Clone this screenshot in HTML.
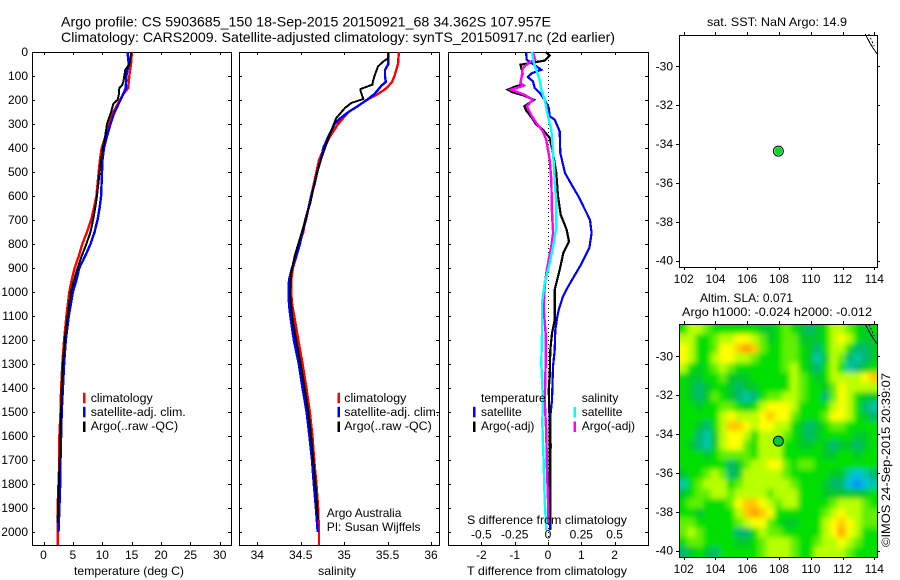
<!DOCTYPE html>
<html lang="en">
<head>
<meta charset="utf-8">
<title>Argo profile CS 5903685_150</title>
<style>
html,body{margin:0;padding:0;background:#fff;}
svg{display:block;font-family:"Liberation Sans",sans-serif;font-size:12px;fill:#000;}
</style>
</head>
<body>
<svg id="fig" width="900" height="580" viewBox="0 0 900 580" xmlns="http://www.w3.org/2000/svg">
<defs>
<filter id="soften" x="-10%" y="-10%" width="120%" height="120%"><feGaussianBlur stdDeviation="2.6"/></filter>
<clipPath id="map-clip"><rect x="679" y="324" width="198" height="233"/></clipPath>
</defs>
<rect x="0" y="0" width="900" height="580" fill="#fff"/>
<text x="61" y="26.5" font-size="14" textLength="490" lengthAdjust="spacingAndGlyphs">Argo profile: CS 5903685_150 18-Sep-2015 20150921_68 34.362S 107.957E</text>
<text x="61" y="42" font-size="14" textLength="554" lengthAdjust="spacingAndGlyphs">Climatology: CARS2009. Satellite-adjusted climatology: synTS_20150917.nc (2d earlier)</text>
<text x="707" y="26" textLength="140" lengthAdjust="spacingAndGlyphs">sat. SST: NaN Argo: 14.9</text>
<text x="700" y="302" textLength="93" lengthAdjust="spacingAndGlyphs">Altim. SLA: 0.071</text>
<text x="682" y="316" textLength="190" lengthAdjust="spacingAndGlyphs">Argo h1000: -0.024 h2000: -0.012</text>
<text transform="translate(890,547) rotate(-90)" textLength="174" lengthAdjust="spacingAndGlyphs">©IMOS 24-Sep-2015 20:39:07</text>
<text x="74" y="575" textLength="110" lengthAdjust="spacingAndGlyphs">temperature (deg C)</text>
<text x="318" y="575" textLength="38" lengthAdjust="spacingAndGlyphs">salinity</text>
<text x="467" y="575" textLength="160" lengthAdjust="spacingAndGlyphs">T difference from climatology</text>
<g id="layer"></g>
<text x="467" y="524" textLength="160" lengthAdjust="spacingAndGlyphs">S difference from climatology</text>
<text x="326.7" y="517">Argo Australia</text>
<text x="326.7" y="531">PI: Susan Wijffels</text>
</svg>
<script>
// ---------- shared depth ticks ----------
const depthTicks = [0,100,200,300,400,500,600,700,800,900,1000,1100,1200,1300,1400,1500,1600,1700,1800,1900,2000];

// ---------- temperature panel ----------
const tempTicks = [0,5,10,15,20,25,30];
const climTDepth = [0,50,100,150,175,200,250,300,350,400,450,500,600,650,700,750,800,850,900,950,1000,1100,1200,1300,1400,1500,1600,1700,1800,1900,2000,2054];
const climT = [15.05,14.9,14.6,14.4,13.6,13.0,11.9,11.1,10.6,9.9,9.6,9.4,9.0,8.6,8.1,7.4,6.6,6.0,5.3,4.8,4.4,3.9,3.5,3.2,3.0,2.9,2.7,2.7,2.55,2.4,2.4,2.4];
const satTDepth = [0,50,100,150,200,250,300,350,400,450,500,600,650,700,750,800,850,900,950,1000,1100,1200,1300,1400,1500,1600,1700,1800,1900,2000];
const satT = [14.3,14.5,14.1,14.0,13.1,12.1,11.4,10.8,10.3,10.05,9.95,9.8,9.55,9.2,8.7,8.0,7.1,6.1,5.6,5.0,4.3,3.8,3.5,3.3,3.1,3.0,2.9,2.85,2.7,2.55];
const argoTDepth = [0,50,75,100,125,140,150,175,200,215,250,300,350,400,450,500,600,650,700,750,800,850,900,950,1000,1100,1200,1300,1400,1500,1600,1700,1800,1900,1960];
const argoT = [14.95,14.65,13.9,13.75,13.6,13.35,12.9,12.85,12.6,11.9,11.5,10.8,10.5,10.1,9.8,9.55,9.1,8.8,8.45,8.0,7.3,6.5,5.8,5.2,4.65,4.1,3.6,3.3,3.1,3.0,2.85,2.75,2.6,2.45,2.4];

// ---------- salinity panel ----------
const salTicks = [34,34.5,35,35.5,36];
const salTickLabels = ['34','34.5','35','35.5','36'];
const climSDepth = [0,50,100,125,150,175,200,225,250,275,300,350,400,450,500,550,600,650,700,750,800,850,900,950,1000,1050,1100,1200,1300,1400,1500,1600,1700,1800,1900,2000,2054];
const climS = [35.63,35.62,35.58,35.55,35.49,35.39,35.26,35.16,35.05,34.99,34.93,34.84,34.77,34.71,34.68,34.65,34.62,34.59,34.55,34.53,34.48,34.45,34.41,34.39,34.39,34.40,34.425,34.472,34.522,34.565,34.605,34.635,34.655,34.68,34.70,34.71,34.71];
const satSDepth = [0,50,75,100,125,140,175,200,225,250,275,300,350,400,450,500,550,600,650,700,750,800,850,900,950,1000,1050,1100,1200,1300,1400,1500,1600,1700,1800,1900,2000];
const satS = [35.51,35.51,35.47,35.47,35.48,35.43,35.35,35.26,35.16,35.05,34.96,34.89,34.82,34.76,34.73,34.69,34.66,34.62,34.59,34.56,34.52,34.49,34.45,34.40,34.365,34.36,34.365,34.38,34.42,34.478,34.52,34.568,34.6,34.63,34.65,34.675,34.695];
const argoSDepth = [0,25,40,60,100,125,136,154,164,196,212,233,275,324,400,462,546,629,754,851,921,1004,1050,1100,1200,1300,1400,1500,1600,1700,1800,1900,1950];
const argoS = [35.51,35.51,35.45,35.39,35.35,35.33,35.327,35.19,35.19,35.22,35.085,35.01,34.91,34.855,34.78,34.72,34.66,34.61,34.51,34.43,34.39,34.376,34.39,34.40,34.447,34.50,34.545,34.587,34.62,34.645,34.67,34.69,34.70];

// ---------- difference panel ----------
const diffTTicks = [-2,-1,0,1,2];
const diffTLabels = ['-2','-1','0','1','2'];
const diffSTicks = [-0.5,-0.25,0,0.25,0.5];
const diffSLabels = ['-0.5','-0.25','0','0.25','0.5'];
const satDTDepth = [0,32,67,74,88,104,122,150,171,199,233,268,282,331,421,504,553,601,699,754,817,893,976,1018,1075,1103,1158,1242,1311,1450,1519,1644,1728,1992];
const satDT = [-0.66,-0.64,-0.27,-0.20,-0.48,-0.61,-0.45,-0.40,-0.25,-0.10,0.02,0.05,0.20,0.35,0.37,0.51,0.71,0.91,1.26,1.31,1.24,0.96,0.61,0.45,0.32,0.28,0.22,0.20,0.15,0.12,0.07,0.08,0.07,0.07];
const argoDTDepth = [0,15,36,43,53,88,129,136,143,157,168,182,199,226,243,275,303,324,358,421,504,601,678,740,789,838,907,990,1060,1117,1172,1242,1353,1408,1547,1728,1960];
const argoDT = [-0.07,0.05,-0.10,-0.40,-0.83,-0.76,-0.83,-0.76,-0.96,-1.21,-1.06,-0.71,-0.42,-0.71,-0.66,-0.48,-0.35,-0.15,0.05,0.15,0.25,0.30,0.38,0.56,0.63,0.46,0.35,0.20,0.20,0.20,0.12,0.07,0.05,0.02,0.05,0.05,0.05];
const satDSDepth = [0,46,115,157,199,268,324,421,532,643,726,810,879,963,1046,1172,1297,1450,1547,1700,1867,1992];
const satDS = [-0.121,-0.106,-0.063,-0.05,-0.025,0,0.025,0.038,0.05,0.063,0.063,0.038,0.013,-0.025,-0.045,-0.045,-0.05,-0.038,-0.043,-0.033,-0.025,-0.013];
const argoDSDepth = [0,32,43,67,101,129,140,157,178,199,226,268,296,331,367,449,532,671,754,810,865,921,976,1067,1172,1311,1450,1589,1728,1867,1964];
const argoDS = [-0.114,-0.096,-0.139,-0.19,-0.197,-0.207,-0.182,-0.278,-0.177,-0.114,-0.159,-0.121,-0.088,-0.038,-0.013,0.013,0.025,0.030,0.038,0.025,0.005,-0.013,-0.025,-0.033,-0.018,-0.018,-0.025,-0.013,-0.008,0,0.003];

// ---------- maps ----------
const lonTicks = [102,104,106,108,110,112,114];
const latTicks = [-30,-32,-34,-36,-38,-40];
const floatLon = [107.957];
const floatLat = [-34.362];
const coastLon = [113.43,113.72,114.15];
const coastLat = [-28.35,-28.8,-29.35];
const coastInnerLon = [113.65,113.98];
const coastInnerLat = [-28.35,-28.95];
// SLA colour level per 0.5-degree cell, north to south (0 = most negative, 10 = most positive)
const slaLevels = [
[5,7,7,6,5,5,5,5,5,5,4,4,5,6,5,4,3,4,5,7,7,6,5,4,5],
[7,7,5,5,6,7,7,8,8,7,6,4,5,6,6,4,4,4,5,7,8,7,5,4,4],
[8,7,5,5,6,8,8,9,10,9,6,5,5,6,6,5,4,3,5,7,7,5,3,3,4],
[8,7,5,5,7,8,8,7,7,6,5,5,5,6,6,5,4,2,4,7,6,3,2,3,4],
[7,5,4,5,6,7,6,5,5,5,5,5,5,6,7,5,4,3,5,7,5,2,3,4,5],
[5,4,4,5,5,6,4,4,4,5,5,5,5,5,7,6,5,4,5,7,7,7,7,8,9],
[5,4,3,4,5,5,4,3,4,4,5,5,5,5,7,6,5,5,4,6,8,7,7,7,7],
[5,4,3,4,6,5,4,3,2,3,5,6,6,7,7,6,5,5,3,6,8,7,5,4,4],
[5,5,4,5,5,6,6,5,4,5,7,8,8,8,7,5,5,5,5,7,8,7,5,3,2],
[5,5,5,5,5,7,8,7,7,7,8,9,8,8,6,5,5,5,6,8,8,7,5,4,3],
[5,5,4,3,5,7,9,9,8,7,8,8,7,7,5,4,3,4,5,6,6,5,5,5,5],
[5,5,3,2,4,7,8,8,7,5,7,7,7,6,5,4,3,4,5,5,5,5,4,4,5],
[5,4,3,2,4,7,8,8,6,5,7,7,7,5,5,4,4,5,4,3,4,4,3,4,5],
[5,5,5,4,5,6,6,6,6,5,7,7,7,5,5,5,5,5,4,4,5,5,4,5,5],
[5,5,5,5,5,5,3,4,6,7,7,8,8,6,5,6,6,5,5,5,5,5,5,5,5],
[4,5,5,6,7,6,3,4,7,7,7,7,7,6,5,5,5,5,5,4,4,2,1,2,3],
[2,5,6,7,7,7,5,6,7,7,7,7,7,7,6,5,5,5,4,3,3,1,0,1,2],
[4,5,6,6,7,7,6,7,7,7,7,6,7,7,7,5,5,5,4,4,4,4,4,4,5],
[5,6,6,5,5,5,6,8,9,9,8,7,6,7,7,5,5,5,5,6,7,7,7,6,5],
[5,5,4,5,5,5,5,7,9,10,9,8,5,5,5,5,5,5,6,7,8,7,7,6,6],
[6,6,5,5,5,5,5,6,7,8,8,6,5,4,4,5,5,5,7,8,9,8,7,6,6],
[6,7,6,5,5,5,5,3,3,5,7,6,6,5,5,5,5,5,7,8,10,8,7,5,5],
[5,6,6,5,5,5,5,4,4,5,6,7,7,7,6,5,5,6,7,7,8,7,6,5,5],
[3,4,5,4,3,5,5,5,5,5,6,7,7,7,6,5,5,7,7,7,7,6,5,5,5]
];
const slaPalette = ['#0090ff','#00c0e0','#00c8a8','#00b870','#00c828','#00e000','#60f000','#b8ff00','#ffff00','#ffc800','#ffa000'];

const NS = 'http://www.w3.org/2000/svg';
const layer = document.getElementById('layer');

function depthY(d){ return 52 + 0.24 * d; }
function tempX(t){ return 43.5 + 5.875 * t; }
function salX(s){ return 257.3 + 86.85 * (s - 34); }
function diffTX(v){ return 548 + 33.3 * v; }
function diffSX(v){ return 548 + 133.2 * v; }
function lonX(l){ return 683.7 + 15.89 * (l - 102); }
function latTopY(l){ return 66.3 + 19.44 * (-30 - l); }
function latBotY(l){ return 356.3 + 19.44 * (-30 - l); }

function mk(tag, parent){
  const el = document.createElementNS(NS, tag);
  parent.appendChild(el);
  return el;
}
function lbl(parent, x, y, str, anchor, name){
  const el = mk('text', parent);
  el.setAttribute('x', x);
  el.setAttribute('y', y);
  el.setAttribute('text-anchor', anchor);
  el.textContent = str;
  
  
  return el;
}
function seg(parent, x1, y1, x2, y2, name){
  const el = mk('line', parent);
  el.setAttribute('x1', x1); el.setAttribute('y1', y1);
  el.setAttribute('x2', x2); el.setAttribute('y2', y2);
  el.setAttribute('stroke', '#000');
  el.setAttribute('stroke-width', 1);
  el.setAttribute('shape-rendering', 'crispEdges');
  
  
  return el;
}
function frame(parent, x0, y0, x1, y1, name){
  const el = mk('rect', parent);
  el.setAttribute('x', x0 + 0.5); el.setAttribute('y', y0 + 0.5);
  el.setAttribute('width', x1 - x0); el.setAttribute('height', y1 - y0);
  el.setAttribute('fill', 'none');
  el.setAttribute('stroke', '#000');
  el.setAttribute('shape-rendering', 'crispEdges');
  
  
}
function series(parent, depths, vals, xf, color, width, name){
  const el = mk('polyline', parent);
  el.setAttribute('points', vals.map((v, i) => xf(v).toFixed(1) + ',' + depthY(depths[i]).toFixed(1)).join(' '));
  el.setAttribute('fill', 'none');
  el.setAttribute('stroke', color);
  el.setAttribute('stroke-width', width);
  el.setAttribute('shape-rendering', 'crispEdges');
  
  
}
function swatch(parent, x, y, color, name){
  const el = mk('rect', parent);
  el.setAttribute('x', x); el.setAttribute('y', y);
  el.setAttribute('width', 2.5); el.setAttribute('height', 10.5);
  el.setAttribute('fill', color);
  
  
}
function profileAxes(g, x0, x1, name){
  frame(g, x0, 52, x1, 545, name + '-frame');
  depthTicks.forEach(d => {
    const y = Math.round(depthY(d)) + 0.5;
    seg(g, x0, y, x0 + 3, y, name + '-depth-tick-left');
    seg(g, x1 - 3, y, x1, y, name + '-depth-tick-right');
  });
}

// Temperature panel
const gT = mk('g', layer);


profileAxes(gT, 32, 231, 'temperature');
depthTicks.forEach(d => lbl(gT, 28, depthY(d) + 4, String(d), 'end', 'depth-tick-label'));
tempTicks.forEach(t => {
  const x = Math.round(tempX(t)) + 0.5;
  seg(gT, x, 52, x, 55, 'temperature-tick-top');
  seg(gT, x, 542, x, 545, 'temperature-tick-bottom');
  lbl(gT, tempX(t), 559, String(t), 'middle', 'temperature-tick-label');
});
series(gT, climTDepth, climT, tempX, '#ff0000', 2.4, 'temperature-climatology-line');
series(gT, satTDepth, satT, tempX, '#0000ff', 2.4, 'temperature-satellite-line');
series(gT, argoTDepth, argoT, tempX, '#000000', 2, 'temperature-argo-line');

// Salinity panel
const gS = mk('g', layer);


profileAxes(gS, 239, 439, 'salinity');
salTicks.forEach((s, i) => {
  const x = Math.round(salX(s)) + 0.5;
  seg(gS, x, 52, x, 55, 'salinity-tick-top');
  seg(gS, x, 542, x, 545, 'salinity-tick-bottom');
  lbl(gS, salX(s), 559, salTickLabels[i], 'middle', 'salinity-tick-label');
});
series(gS, climSDepth, climS, salX, '#ff0000', 2.4, 'salinity-climatology-line');
series(gS, satSDepth, satS, salX, '#0000ff', 2.4, 'salinity-satellite-line');
series(gS, argoSDepth, argoS, salX, '#000000', 2, 'salinity-argo-line');

// Legends for temperature and salinity panels
[[83, 90.7, 'temperature'], [337.5, 344.3, 'salinity']].forEach(cfg => {
  swatch(layer, cfg[0], 392.7, '#ff0000', cfg[2] + '-legend-climatology-swatch');
  swatch(layer, cfg[0], 406.8, '#0000ff', cfg[2] + '-legend-satellite-swatch');
  swatch(layer, cfg[0], 421.5, '#000000', cfg[2] + '-legend-argo-swatch');
  lbl(layer, cfg[1], 402, 'climatology', 'start', cfg[2] + '-legend-climatology').setAttribute('font-size', '12.4');
  lbl(layer, cfg[1], 416, 'satellite-adj. clim.', 'start', cfg[2] + '-legend-satellite').setAttribute('font-size', '12.4');
  lbl(layer, cfg[1], 430, 'Argo(..raw -QC)', 'start', cfg[2] + '-legend-argo').setAttribute('font-size', '12.4');
});

// Difference panel
const gD = mk('g', layer);


profileAxes(gD, 448, 648, 'difference');
diffTTicks.forEach((t, i) => {
  const x = Math.round(diffTX(t)) + 0.5;
  seg(gD, x, 52, x, 55, 'difference-tick-top');
  seg(gD, x, 542, x, 545, 'difference-tick-bottom');
  lbl(gD, diffTX(t), 559, diffTLabels[i], 'middle', 't-difference-tick-label');
});
const zeroLine = seg(gD, diffTX(0) + 0.5, 52, diffTX(0) + 0.5, 545, 'zero-difference-line');
zeroLine.setAttribute('stroke-dasharray', '1 3');
series(gD, satDTDepth, satDT, diffTX, '#0000ff', 2.2, 'temperature-satellite-difference-line');
series(gD, argoDTDepth, argoDT, diffTX, '#000000', 2.2, 'temperature-argo-difference-line');
series(gD, argoDSDepth, argoDS, diffSX, '#ff00ff', 2.4, 'salinity-argo-difference-line');
series(gD, satDSDepth, satDS, diffSX, '#00ffff', 2.4, 'salinity-satellite-difference-line');
diffSTicks.forEach((s, i) => {
  lbl(gD, diffSX(s), 538.5, diffSLabels[i], 'middle', 's-difference-tick-label');
});

lbl(gD, 481, 402, 'temperature', 'start', 'difference-legend-temperature-heading');
lbl(gD, 481, 416, 'satellite', 'start', 'difference-legend-temperature-satellite');
lbl(gD, 481, 430, 'Argo(-adj)', 'start', 'difference-legend-temperature-argo');
lbl(gD, 581.7, 402, 'salinity', 'start', 'difference-legend-salinity-heading');
lbl(gD, 581.7, 416, 'satellite', 'start', 'difference-legend-salinity-satellite');
lbl(gD, 581.7, 430, 'Argo(-adj)', 'start', 'difference-legend-salinity-argo');
swatch(gD, 473, 406.8, '#0000ff', 'difference-legend-temperature-satellite-swatch');
swatch(gD, 473, 421.5, '#000000', 'difference-legend-temperature-argo-swatch');
swatch(gD, 573.5, 406.8, '#00ffff', 'difference-legend-salinity-satellite-swatch');
swatch(gD, 573.5, 421.5, '#ff00ff', 'difference-legend-salinity-argo-swatch');

// Maps
function mapAxes(g, y0, y1, latY, labelY, name){
  latTicks.forEach(l => {
    const y = Math.round(latY(l)) + 0.5;
    seg(g, 676, y, 679, y, name + '-lat-tick-left');
    seg(g, 877, y, 880, y, name + '-lat-tick-right');
    lbl(g, 673, latY(l) + 4, String(l), 'end', name + '-lat-tick-label');
  });
  lonTicks.forEach(l => {
    const x = Math.round(lonX(l)) + 0.5;
    seg(g, x, y0 - 3, x, y0, name + '-lon-tick-top');
    seg(g, x, y1, x, y1 + 3, name + '-lon-tick-bottom');
    lbl(g, lonX(l), labelY, String(l), 'middle', name + '-lon-tick-label');
  });
  frame(g, 679, y0, 877, y1, name + '-frame');
}
function coast(g, latY, lons, lats, dash, name){
  const el = mk('polyline', g);
  el.setAttribute('points', lons.map((l, i) => lonX(l).toFixed(1) + ',' + latY(lats[i]).toFixed(1)).join(' '));
  el.setAttribute('fill', 'none');
  el.setAttribute('stroke', '#000');
  el.setAttribute('stroke-width', 1);
  if (dash) el.setAttribute('stroke-dasharray', dash);
  el.setAttribute('shape-rendering', 'crispEdges');
  
  
}
function marker(g, latY, ringFill, coreFill, name){
  const ring = mk('circle', g);
  ring.setAttribute('cx', lonX(floatLon[0]));
  ring.setAttribute('cy', latY(floatLat[0]));
  ring.setAttribute('r', 5);
  ring.setAttribute('fill', ringFill);
  ring.setAttribute('stroke', '#000');
  ring.setAttribute('stroke-width', 1);
  
  
  const core = mk('circle', g);
  core.setAttribute('cx', lonX(floatLon[0]));
  core.setAttribute('cy', latY(floatLat[0]));
  core.setAttribute('r', 4);
  core.setAttribute('fill', coreFill);
  
  
}

const gM1 = mk('g', layer);


mapAxes(gM1, 35, 267, latTopY, 283, 'sst-map');
coast(gM1, latTopY, coastLon, coastLat, null, 'sst-map-coastline');
coast(gM1, latTopY, coastInnerLon, coastInnerLat, '2 2', 'sst-map-coast-contour');
marker(gM1, latTopY, '#dff5df', '#00dd22', 'sst-map-float-marker');

const gM2 = mk('g', layer);


const clipG = mk('g', gM2);
clipG.setAttribute('clip-path', 'url(#map-clip)');
const heatG = mk('g', clipG);
heatG.setAttribute('filter', 'url(#soften)');


const cellDeg = 0.498;
const gridLon0 = 101.72;
const gridLat0 = -28.35;
slaLevels.forEach((row, r) => {
  row.forEach((lvl, c) => {
    let x0 = lonX(gridLon0 + c * cellDeg), x1 = lonX(gridLon0 + (c + 1) * cellDeg);
    let y0 = latBotY(gridLat0 - r * cellDeg), y1 = latBotY(gridLat0 - (r + 1) * cellDeg);
    if (c === 0) x0 -= 12;
    if (c === row.length - 1) x1 += 12;
    if (r === 0) y0 -= 12;
    if (r === slaLevels.length - 1) y1 += 12;
    const cell = mk('rect', heatG);
    cell.setAttribute('x', x0.toFixed(2));
    cell.setAttribute('y', y0.toFixed(2));
    cell.setAttribute('width', (x1 - x0 + 0.4).toFixed(2));
    cell.setAttribute('height', (y1 - y0 + 0.4).toFixed(2));
    cell.setAttribute('fill', slaPalette[lvl]);
    
    
  });
});
mapAxes(gM2, 324, 557, latBotY, 573, 'sla-map');
coast(gM2, latBotY, coastLon, coastLat, null, 'sla-map-coastline');
coast(gM2, latBotY, coastInnerLon, coastInnerLat, '2 2', 'sla-map-coast-contour');
marker(gM2, latBotY, '#00c830', '#00c830', 'sla-map-float-marker');
</script>
</body>
</html>
